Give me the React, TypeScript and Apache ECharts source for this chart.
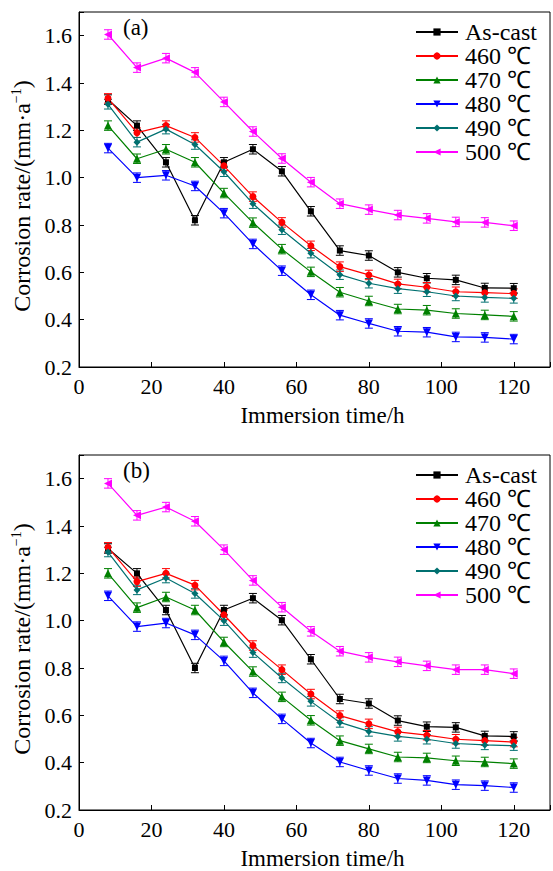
import React, { useEffect, useRef } from "react";
import * as echarts from "echarts";

const times = [8, 16, 24, 32, 40, 48, 56, 64, 72, 80, 88, 96, 104, 112, 120];
const seriesNames = ["As-cast", "460 ℃", "470 ℃", "480 ℃", "490 ℃", "500 ℃"];

const asCastA = [1.33, 1.22, 1.065, 0.82, 1.065, 1.12, 1.027, 0.858, 0.692, 0.671, 0.6, 0.575, 0.568, 0.534, 0.533];
const t460A = [1.335, 1.19, 1.22, 1.17, 1.05, 0.92, 0.811, 0.712, 0.624, 0.589, 0.551, 0.537, 0.518, 0.514, 0.51];
const t470A = [1.22, 1.08, 1.12, 1.065, 0.935, 0.81, 0.698, 0.602, 0.516, 0.479, 0.445, 0.44, 0.426, 0.42, 0.414];
const t480A = [1.125, 1.0, 1.01, 0.965, 0.85, 0.72, 0.607, 0.505, 0.419, 0.384, 0.351, 0.347, 0.327, 0.325, 0.318];
const t490A = [1.31, 1.15, 1.205, 1.14, 1.025, 0.89, 0.78, 0.681, 0.59, 0.554, 0.531, 0.518, 0.5, 0.494, 0.49];
const t500A = [1.605, 1.465, 1.505, 1.445, 1.32, 1.195, 1.081, 0.981, 0.89, 0.865, 0.842, 0.828, 0.813, 0.811, 0.797];

const asCastB = [1.305, 1.2, 1.045, 0.8, 1.045, 1.095, 1.002, 0.837, 0.669, 0.65, 0.578, 0.552, 0.549, 0.513, 0.511];
const t460B = [1.31, 1.165, 1.2, 1.15, 1.025, 0.895, 0.793, 0.69, 0.599, 0.564, 0.53, 0.516, 0.499, 0.493, 0.487];
const t470B = [1.2, 1.055, 1.1, 1.045, 0.91, 0.785, 0.678, 0.579, 0.493, 0.458, 0.424, 0.42, 0.408, 0.403, 0.396];
const t480B = [1.105, 0.975, 0.99, 0.94, 0.83, 0.695, 0.585, 0.483, 0.403, 0.367, 0.333, 0.325, 0.307, 0.303, 0.295];
const t490B = [1.29, 1.13, 1.18, 1.115, 1.0, 0.865, 0.758, 0.659, 0.57, 0.532, 0.511, 0.499, 0.481, 0.475, 0.472];
const t500B = [1.58, 1.445, 1.48, 1.42, 1.3, 1.17, 1.057, 0.955, 0.871, 0.845, 0.826, 0.809, 0.793, 0.793, 0.776];

const errBars = [0.02, 0.02, 0.02, 0.02, 0.02, 0.02, 0.02, 0.02, 0.02, 0.02, 0.02, 0.02, 0.02, 0.02, 0.02];

const xTicks = [0, 20, 40, 60, 80, 100, 120];
const yTicks = [0.2, 0.4, 0.6, 0.8, 1.0, 1.2, 1.4, 1.6];

const colors = ["#000000", "#ff0000", "#008000", "#0000ff", "#007070", "#ff00ff"];
const symbols = ["rect", "circle", "triangle", "triangle", "diamond", "triangle"];
const rotations = [0, 0, 0, 180, 0, 90];
const symbolSizes = [6, 7, 8, 8, 7, 8];

const FONT = "Liberation Serif, serif";

export default function App() {
  const ref = useRef<HTMLDivElement>(null);
  useEffect(() => {
    if (!ref.current) return;
    const chart = echarts.init(ref.current, null, { renderer: "svg" });
    const panels = [
      { data: [asCastA, t460A, t470A, t480A, t490A, t500A], top: 12, tag: "(a)" },
      { data: [asCastB, t460B, t470B, t480B, t490B, t500B], top: 455, tag: "(b)" },
    ];
    const gridH = 355;
    const grids: any[] = [];
    const xAxes: any[] = [];
    const yAxes: any[] = [];
    const series: any[] = [];
    const legends: any[] = [];
    const graphics: any[] = [];

    panels.forEach((p, pi) => {
      grids.push({
        left: 79, top: p.top, width: 473, height: gridH,
        show: true, borderColor: "#000", borderWidth: 1, backgroundColor: "transparent",
      });
      xAxes.push({
        gridIndex: pi, type: "value", min: 0, max: 130, interval: 20,
        name: "Immersion time/h", nameLocation: "middle", nameGap: 37,
        nameTextStyle: { fontFamily: FONT, fontSize: 23, color: "#000", padding: [0, 0, 0, 16] },
        axisLine: { onZero: false, lineStyle: { color: "#000", width: 1 } },
        axisTick: { inside: true, length: 5, lineStyle: { color: "#000" } },
        axisLabel: {
          fontFamily: FONT, fontSize: 22, color: "#000", margin: 8,
          formatter: (v: number) => (xTicks.includes(v) ? String(v) : ""),
        },
        splitLine: { show: false },
      });
      yAxes.push({
        gridIndex: pi, type: "value", min: 0.2, max: 1.7, interval: 0.2,
        axisLine: { onZero: false, lineStyle: { color: "#000", width: 1 } },
        axisTick: { inside: true, length: 5, lineStyle: { color: "#000" } },
        axisLabel: {
          fontFamily: FONT, fontSize: 22, color: "#000", margin: 7,
          formatter: (v: number) => {
            const r = Math.round(v * 10) / 10;
            return yTicks.some((t) => Math.abs(t - r) < 1e-6) && Math.abs(v - 1.7) > 1e-6 ? r.toFixed(1) : "";
          },
        },
        splitLine: { show: false },
      });
      p.data.forEach((vals, si) => {
        series.push({
          type: "custom",
          name: "err" + pi + "_" + si,
          xAxisIndex: pi, yAxisIndex: pi,
          z: 1,
          silent: true,
          data: times.map((t, i) => [t, vals[i], errBars[i]]),
          encode: { x: 0, y: 1 },
          renderItem: (params: any, api: any) => {
            const x = api.value(0), y = api.value(1), e = api.value(2);
            const a = api.coord([x, y + e]);
            const b = api.coord([x, y - e]);
            const hw = 4;
            const st = { stroke: colors[si], lineWidth: 1 };
            return {
              type: "group",
              children: [
                { type: "line", shape: { x1: a[0], y1: a[1], x2: b[0], y2: b[1] }, style: st },
                { type: "line", shape: { x1: a[0] - hw, y1: a[1], x2: a[0] + hw, y2: a[1] }, style: st },
                { type: "line", shape: { x1: b[0] - hw, y1: b[1], x2: b[0] + hw, y2: b[1] }, style: st },
              ],
            };
          },
        });
        series.push({
          type: "line",
          name: seriesNames[si],
          xAxisIndex: pi, yAxisIndex: pi,
          z: 3,
          data: times.map((t, i) => [t, vals[i]]),
          symbol: symbols[si],
          symbolRotate: rotations[si],
          symbolSize: symbolSizes[si],
          showAllSymbol: true,
          color: colors[si],
          lineStyle: { color: colors[si], width: 1.2 },
          itemStyle: { color: colors[si] },
        });
      });
      legends.push({
        data: seriesNames,
        orient: "vertical",
        left: 415,
        top: p.top + 8,
        padding: 0,
        itemGap: 0,
        itemWidth: 42,
        itemHeight: 9,
        selectedMode: false,
        textStyle: { fontFamily: FONT, fontSize: 24, color: "#000", lineHeight: 24, padding: [0, 0, 0, 2] },
      });
      graphics.push({
        type: "text", left: 123, top: p.top + 4,
        style: { text: p.tag, font: `23px ${FONT}`, fill: "#000" },
      });
      graphics.push({
        type: "text",
        x: 22, y: p.top + 184,
        rotation: Math.PI / 2,
        style: {
          text: "Corrosion rate/(mm·a{s|−1})",
          font: `24px ${FONT}`,
          fill: "#000",
          align: "center",
          verticalAlign: "middle",
          lineHeight: 26,
          rich: { s: { fontSize: 14, fontFamily: FONT, fill: "#000", verticalAlign: "top", lineHeight: 26 } },
        },
      });
    });

    chart.setOption({
      animation: false,
      backgroundColor: "#fff",
      grid: grids,
      xAxis: xAxes,
      yAxis: yAxes,
      legend: legends,
      series,
      graphic: graphics,
    });
    return () => chart.dispose();
  }, []);
  return <div ref={ref} style={{ position: "fixed", left: 0, top: 0, width: 553, height: 871 }} />;
}
